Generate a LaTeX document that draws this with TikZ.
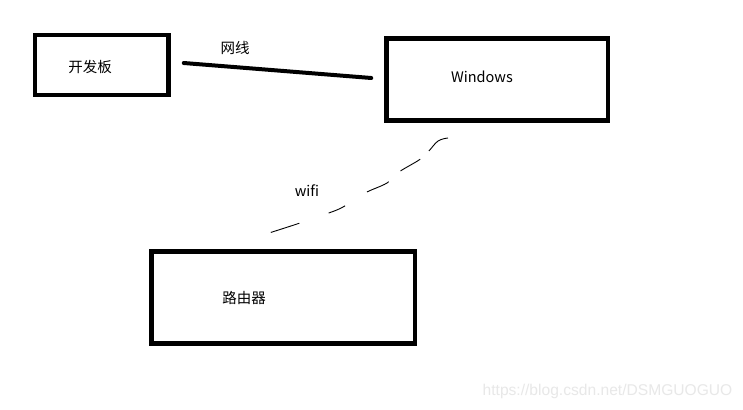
\documentclass[tikz,border=0pt]{standalone}
\usepackage{fontspec}
\setmainfont{Noto Sans CJK SC}
\newfontfamily\wmfont{Liberation Sans}
\definecolor{wmgray}{RGB}{232,232,232}
\begin{document}
\begin{tikzpicture}[x=1pt,y=-1pt,
  box/.style={draw=black,line width=4.5pt,inner sep=0pt,fill=white},
  lbl/.style={inner sep=0pt,font=\fontsize{14.5}{17}\selectfont},
  wire/.style={line width=4pt,line cap=round},
  wifilink/.style={line width=0.9pt,dash pattern=on 24pt off 12pt on 23pt off 16pt on 24pt off 26pt on 18pt off 31pt on 30pt}]
\useasboundingbox[fill=white] (0,0) rectangle (743,409);
\node[box,minimum width=133.5pt,minimum height=60pt] (board) at (101.75,65) {};
\node[box,minimum width=221.5pt,minimum height=82pt] (win) at (497.25,79.5) {};
\node[box,minimum width=263.5pt,minimum height=92pt] (router) at (283.25,297.5) {};
\node[lbl] (tboard) at (90,67) {开发板};
\node[lbl] (twin) at (482,77) {Windows};
\node[lbl] (trouter) at (244,298) {路由器};
\node[lbl] (tnet) at (235,48) {网线};
\node[lbl] (twifi) at (307,191) {wifi};
\draw[wire] ([xshift=13pt,yshift=2pt]board.east) -- ([xshift=-13pt,yshift=1.5pt]win.west);
\coordinate (wA) at (448,138);
\coordinate (wB) at (269,233);
\draw[wifilink] plot[smooth,tension=0.6] coordinates {(wA) (438,141) (428,152) (419,160) (399,172) (387,183) (365,193) (343,207) (326,214) (297,224) (wB)};
\node[inner sep=0pt,text=wmgray,font=\wmfont\fontsize{15.6}{18}\selectfont] (wm) at (607.5,391) {https://blog.csdn.net/DSMGUOGUO};
\end{tikzpicture}
\end{document}
